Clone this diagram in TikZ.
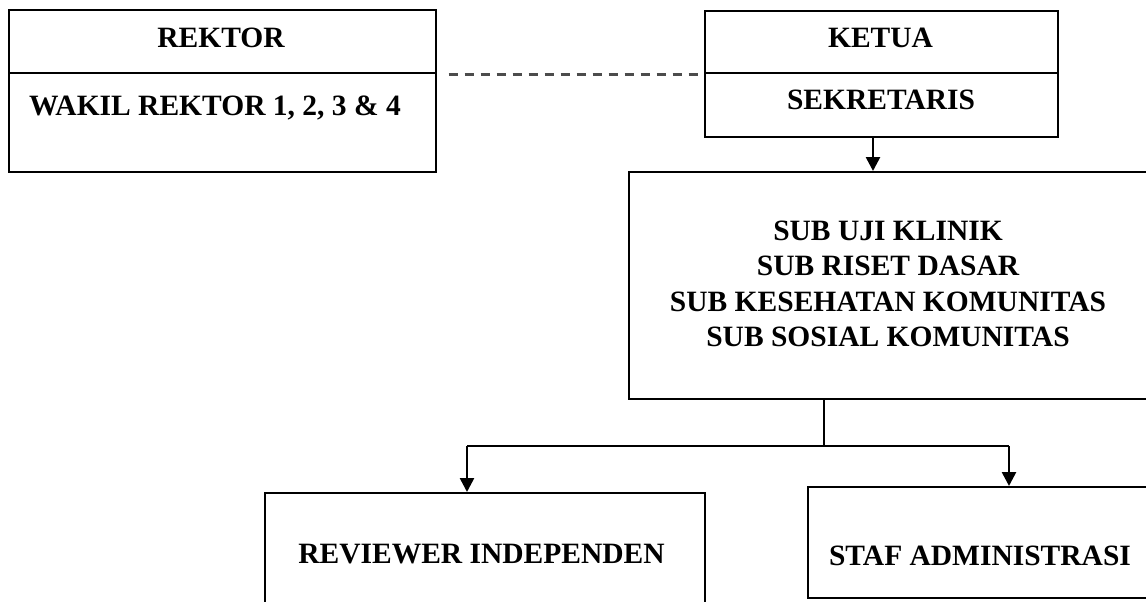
\documentclass[tikz,border=0pt]{standalone}
\usepackage{fontspec}
\setmainfont{Liberation Serif}
\usetikzlibrary{arrows.meta}
\begin{document}
\begin{tikzpicture}[x=1pt,y=-1pt,
  box/.style={draw, line width=1.6pt, rectangle, inner sep=0pt, anchor=north west},
  lbl/.style={font=\bfseries\fontsize{29.5}{35.5}\selectfont, inner sep=0pt, anchor=base},
  mlbl/.style={font=\bfseries\fontsize{29.5}{35.5}\selectfont, inner sep=0pt, align=center},
  divider/.style={line width=1.6pt},
  thickdivider/.style={line width=2.8pt},
  conn/.style={line width=1.7pt},
  arr/.style={line width=2.6pt, -{Triangle[width=14pt,length=14pt]}},
  dashline/.style={line width=3pt, draw=black!70, dash pattern=on 9pt off 7pt}]
\useasboundingbox (0,0) rectangle (1146,602);
\clip (0,0) rectangle (1146,602);
\fill[white] (0,0) rectangle (1146,602);

% boxes
\node[box, minimum width=427pt, minimum height=162pt] (rektor) at (8,9) {};
\node[box, minimum width=353pt, minimum height=126pt] (ketua) at (704,10) {};
\node[box, minimum width=530pt, minimum height=227pt] (main) at (628,171) {};
\node[box, minimum width=440pt, minimum height=130pt] (reviewer) at (264,492) {};
\node[box, minimum width=346pt, minimum height=111pt] (staf) at (807,486) {};

% dividers
\coordinate (rdiv) at (0,73);
\draw[thickdivider] (rektor.west |- rdiv) -- (rektor.east |- rdiv);
\draw[divider] (ketua.west |- rdiv) -- (ketua.east |- rdiv);

% texts
\node[lbl] (rektortxt) at (221,48) {REKTOR};
\node[lbl] (wakiltxt) at (215,115) {WAKIL REKTOR 1, 2, 3 \& 4};
\node[lbl] (ketuatxt) at (880.5,48) {KETUA};
\node[lbl] (sekrtxt) at (881,110) {SEKRETARIS};
\node[mlbl] (maintxt) at (888,284) {SUB UJI KLINIK\\SUB RISET DASAR\\SUB KESEHATAN KOMUNITAS\\SUB SOSIAL KOMUNITAS};
\node[lbl] (revtxt) at (481.5,563) {REVIEWER INDEPENDEN};
\node[lbl] (staftxt) at (980,565) {STAF ADMINISTRASI};

% connectors
\coordinate (ddash) at (0,75);
\draw[dashline] ([xshift=12pt]rektor.east |- ddash) -- (ketua.west |- ddash);

\coordinate (ka) at (873,0);
\draw[arr] (ketua.south -| ka) -- (main.north -| ka);

\coordinate (split) at (824,446);
\coordinate (lx) at (467,0);
\coordinate (rx) at (1009,0);
\draw[conn] (main.south -| split) -- (split);
\draw[conn] (split -| lx) -- (split -| rx);
\draw[arr] (split -| lx) -- (lx |- reviewer.north);
\draw[arr] (split -| rx) -- (rx |- staf.north);
\end{tikzpicture}
\end{document}
